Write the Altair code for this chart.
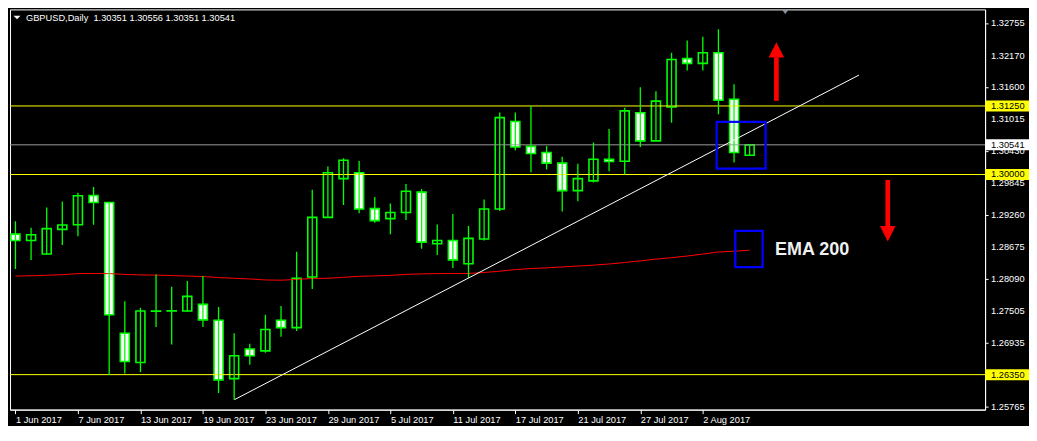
import altair as alt
import pandas as pd

# ---------------- data ----------------
dates = [
    "1 Jun 2017", "2 Jun 2017", "5 Jun 2017", "6 Jun 2017", "7 Jun 2017", "8 Jun 2017",
    "9 Jun 2017", "12 Jun 2017", "13 Jun 2017", "14 Jun 2017", "15 Jun 2017", "16 Jun 2017",
    "19 Jun 2017", "20 Jun 2017", "21 Jun 2017", "22 Jun 2017", "23 Jun 2017", "26 Jun 2017",
    "27 Jun 2017", "28 Jun 2017", "29 Jun 2017", "30 Jun 2017", "3 Jul 2017", "4 Jul 2017",
    "5 Jul 2017", "6 Jul 2017", "7 Jul 2017", "10 Jul 2017", "11 Jul 2017", "12 Jul 2017",
    "13 Jul 2017", "14 Jul 2017", "17 Jul 2017", "18 Jul 2017", "19 Jul 2017", "20 Jul 2017",
    "21 Jul 2017", "24 Jul 2017", "25 Jul 2017", "26 Jul 2017", "27 Jul 2017", "28 Jul 2017",
    "31 Jul 2017", "1 Aug 2017", "2 Aug 2017", "3 Aug 2017", "4 Aug 2017", "7 Aug 2017",
]
opens = [
    1.28912, 1.28796, 1.28549, 1.29000, 1.29083, 1.29618, 1.29489, 1.27106, 1.26572, 1.27512,
    1.27515, 1.27512, 1.27631, 1.27341, 1.26277, 1.26819, 1.26783, 1.27341, 1.27207, 1.28130,
    1.29219, 1.29925, 1.30031, 1.29378, 1.29195, 1.29308, 1.29678, 1.28736, 1.28796, 1.28372,
    1.28824, 1.29371, 1.30967, 1.30513, 1.30402, 1.30208, 1.29706, 1.29883, 1.30278, 1.30243,
    1.31126, 1.30614, 1.31232, 1.32114, 1.32026, 1.32220, 1.31373, 1.30351,
]
highs = [
    1.29149, 1.29030, 1.29396, 1.29507, 1.29666, 1.29772, 1.29500, 1.27689, 1.27571, 1.28178,
    1.27954, 1.28060, 1.28148, 1.27583, 1.27106, 1.26912, 1.27442, 1.27601, 1.28589, 1.29724,
    1.30148, 1.30296, 1.30248, 1.29590, 1.29472, 1.29825, 1.29737, 1.29089, 1.29278, 1.29060,
    1.29542, 1.31131, 1.31131, 1.31249, 1.30519, 1.30324, 1.30195, 1.30584, 1.30831, 1.31219,
    1.31590, 1.31519, 1.32220, 1.32443, 1.32513, 1.32649, 1.31648, 1.30556,
]
lows = [
    1.28277, 1.28443, 1.28540, 1.28713, 1.28872, 1.29083, 1.26342, 1.26370, 1.26400, 1.27218,
    1.26900, 1.27500, 1.27218, 1.26017, 1.25894, 1.26529, 1.26748, 1.27041, 1.27147, 1.27913,
    1.29210, 1.29442, 1.29295, 1.29119, 1.28912, 1.29172, 1.28647, 1.28531, 1.28294, 1.28118,
    1.28796, 1.29336, 1.30443, 1.30042, 1.30090, 1.29325, 1.29512, 1.29855, 1.30060, 1.29999,
    1.30501, 1.30614, 1.30942, 1.31895, 1.31895, 1.31101, 1.30218, 1.30351,
]
closes = [
    1.28796, 1.28902, 1.29013, 1.29078, 1.29613, 1.29489, 1.27442, 1.26589, 1.27512, 1.27507,
    1.27510, 1.27777, 1.27348, 1.26254, 1.26695, 1.26695, 1.27172, 1.27207, 1.28107, 1.29219,
    1.30031, 1.30261, 1.29371, 1.29159, 1.29308, 1.29696, 1.28766, 1.28796, 1.28443, 1.28836,
    1.29371, 1.31037, 1.30501, 1.30384, 1.30208, 1.29706, 1.29925, 1.30278, 1.30236, 1.31161,
    1.30614, 1.31338, 1.32097, 1.32026, 1.32220, 1.31355, 1.30402, 1.30541,
]
ema200 = [
    1.28148, 1.28153, 1.28162, 1.28174, 1.28192, 1.28195, 1.28192, 1.28178, 1.28169, 1.28165,
    1.28157, 1.28148, 1.28139, 1.28121, 1.28107, 1.28095, 1.28077, 1.28072, 1.28086, 1.28104,
    1.28107, 1.28125, 1.28143, 1.28151, 1.28160, 1.28178, 1.28188, 1.28192, 1.28195, 1.28195,
    1.28213, 1.28236, 1.28266, 1.28285, 1.28298, 1.28314, 1.28330, 1.28347, 1.28368, 1.28395,
    1.28425, 1.28457, 1.28483, 1.28513, 1.28549, 1.28586, 1.28601, 1.28619,
]
x_tick_idx = [0, 4, 8, 12, 16, 20, 24, 28, 32, 36, 40, 44]
x_tick_labels = [dates[i] for i in x_tick_idx]
y_tick_values = [1.32755, 1.32170, 1.31600, 1.31015, 1.30430, 1.29845, 1.29260,
                 1.28675, 1.28090, 1.27505, 1.26935, 1.26350, 1.25765]
level_prices = [1.31250, 1.30000, 1.26350]
current_price = 1.30541
title_text = "GBPUSD,Daily\u00a0\u00a01.30351 1.30556 1.30351 1.30541"

trend_idx = [14.02, 54.0]
trend_price = [1.25894, 1.31814]

box_x0 = [44.89, 46.08]
box_x1 = [48.02, 47.83]
box_top = [1.30960, 1.28972]
box_bottom = [1.30107, 1.28312]

arrow_idx = [48.71, 55.84]
arrow_from = [1.31343, 1.29901]
arrow_to = [1.32137, 1.29060]
arrow_head = [1.32273, 1.28921]
arrow_dir = ["up", "down"]

ema_label = "EMA 200"
ema_label_idx = 48.62
ema_label_price = 1.28624
shift_marker_idx = 49.28

# ---------------- layout / style ----------------
W, H = 977, 401
FONT = "Liberation Sans"
FS = 9.3
LIME = "#00ff00"

xs = alt.Scale(domain=[-0.03, 61.75], nice=False, zero=False)
ys = alt.Scale(domain=[1.25712, 1.33011], nice=False, zero=False)

label_expr = "[" + ",".join("'%s'" % s for s in x_tick_labels) + "][round(datum.value/4)]"
xaxis = alt.Axis(values=x_tick_idx, labelExpr=label_expr, orient="bottom", grid=False, title=None,
                 domainColor="white", tickColor="white", labelColor="white", tickSize=4,
                 labelAlign="left", labelPadding=2, labelFont=FONT, labelFontSize=FS,
                 labelOverlap=False, labelFlush=False)
yaxis = alt.Axis(values=y_tick_values, orient="right", grid=False, title=None,
                 domainColor="white", tickColor="white", tickSize=3, labels=False)

df = pd.DataFrame({"i": list(range(len(opens))), "date": dates, "open": opens, "high": highs,
                   "low": lows, "close": closes, "ema": ema200})
df["dir"] = ["up" if c > o else "down" for o, c in zip(opens, closes)]

lvl_df = pd.DataFrame({"price": level_prices})
cur_df = pd.DataFrame({"price": [current_price]})
ytick_df = pd.DataFrame({"price": y_tick_values})
lab_df = pd.DataFrame({"price": level_prices + [current_price],
                       "bg": ["#ffff00"] * len(level_prices) + ["#ffffff"]})
trend_df = pd.DataFrame({"i": trend_idx, "p": trend_price})
box_df = pd.DataFrame({"x0": box_x0, "x1": box_x1, "t": box_top, "b": box_bottom})
arr_df = pd.DataFrame({"i": arrow_idx, "p0": arrow_from, "p1": arrow_to, "ph": arrow_head,
                       "shape": ["M0,-1L1,1L-1,1Z" if d == "up" else "M-1,-1L1,-1L0,1Z" for d in arrow_dir]})
txt_df = pd.DataFrame({"i": [ema_label_idx], "p": [ema_label_price], "t": [ema_label]})
title_df = pd.DataFrame({"t": [title_text]})
shift_df = pd.DataFrame({"i": [shift_marker_idx]})

# main candle layer carries both axes
bodies = alt.Chart(df).mark_bar(size=9, stroke=LIME, strokeWidth=1.6, clip=True, opacity=1).encode(
    x=alt.X("i:Q", scale=xs, axis=xaxis), y=alt.Y("open:Q", scale=ys, axis=yaxis), y2="close:Q",
    fill=alt.Fill("dir:N", scale=alt.Scale(domain=["up", "down"], range=["#000000", "#ffffff"]), legend=None))
wicks = alt.Chart(df).mark_rule(color=LIME, strokeWidth=1.3, clip=True).encode(
    x=alt.X("i:Q", scale=xs), y=alt.Y("low:Q", scale=ys), y2="high:Q")
levels = alt.Chart(lvl_df).mark_rule(color="#ffff00", strokeWidth=1).encode(
    y=alt.Y("price:Q", scale=ys))
cur = alt.Chart(cur_df).mark_rule(color="#9c9c9c", strokeWidth=1).encode(
    y=alt.Y("price:Q", scale=ys))
ema = alt.Chart(df).mark_line(color="#ff0000", strokeWidth=1, clip=True).encode(
    x=alt.X("i:Q", scale=xs), y=alt.Y("ema:Q", scale=ys))
trend = alt.Chart(trend_df).mark_line(color="white", strokeWidth=1).encode(
    x=alt.X("i:Q", scale=xs), y=alt.Y("p:Q", scale=ys))
boxes = alt.Chart(box_df).mark_rect(fillOpacity=0, stroke="#0000ff", strokeWidth=2.3).encode(
    x=alt.X("x0:Q", scale=xs), x2="x1:Q", y=alt.Y("t:Q", scale=ys), y2="b:Q")
shafts = alt.Chart(arr_df).mark_rule(color="#ff0000", strokeWidth=4.7).encode(
    x=alt.X("i:Q", scale=xs), y=alt.Y("p0:Q", scale=ys), y2="p1:Q")
heads = alt.Chart(arr_df).mark_point(filled=True, size=240, color="#ff0000", opacity=1).encode(
    x=alt.X("i:Q", scale=xs), y=alt.Y("ph:Q", scale=ys),
    shape=alt.Shape("shape:N", scale=None))
ema_txt = alt.Chart(txt_df).mark_text(align="left", baseline="middle", font=FONT,
                                      fontWeight="bold", fontSize=18, color="#f0f0f0").encode(
    x=alt.X("i:Q", scale=xs), y=alt.Y("p:Q", scale=ys), text="t:N")
ytick_txt = alt.Chart(ytick_df).mark_text(align="left", baseline="middle", font=FONT, fontSize=FS,
                                          color="white").encode(
    x=alt.value(W + 6), y=alt.Y("price:Q", scale=ys),
    text=alt.Text("price:Q", format=".5f"))
lab_box = alt.Chart(lab_df).mark_tick(orient="horizontal", size=44, thickness=11, opacity=1).encode(
    x=alt.value(W + 22), y=alt.Y("price:Q", scale=ys), color=alt.Color("bg:N", scale=None))
lab_txt = alt.Chart(lab_df).mark_text(align="left", baseline="middle", font=FONT, fontSize=FS,
                                      color="black").encode(
    x=alt.value(W + 6), y=alt.Y("price:Q", scale=ys),
    text=alt.Text("price:Q", format=".5f"))
title = alt.Chart(title_df).mark_text(align="left", baseline="alphabetic", font=FONT, fontSize=FS,
                                      color="white").encode(
    x=alt.value(16), y=alt.value(11.5), text="t:N")
tri = alt.Chart(title_df).mark_point(shape="M-1,-0.5L1,-0.5L0,0.5Z", filled=True, size=49,
                                     color="white", opacity=1).encode(x=alt.value(7), y=alt.value(8))
shift = alt.Chart(shift_df).mark_point(shape="M-1,-0.65L1,-0.65L0,0.65Z", filled=True, size=49,
                                       color="#8a94a0", opacity=1).encode(
    x=alt.X("i:Q", scale=xs), y=alt.value(2.3))

chart = alt.layer(
    bodies, levels, cur, ema, wicks, trend, boxes, shafts, heads, ema_txt,
    ytick_txt, lab_box, lab_txt, title, tri, shift
).properties(
    width=W, height=H, background="black",
    padding={"left": 1, "top": 1, "right": 0, "bottom": 0},
).configure_view(stroke="white", strokeWidth=1)

chart.save("out.html", embed_options={"renderer": "svg", "actions": False})
